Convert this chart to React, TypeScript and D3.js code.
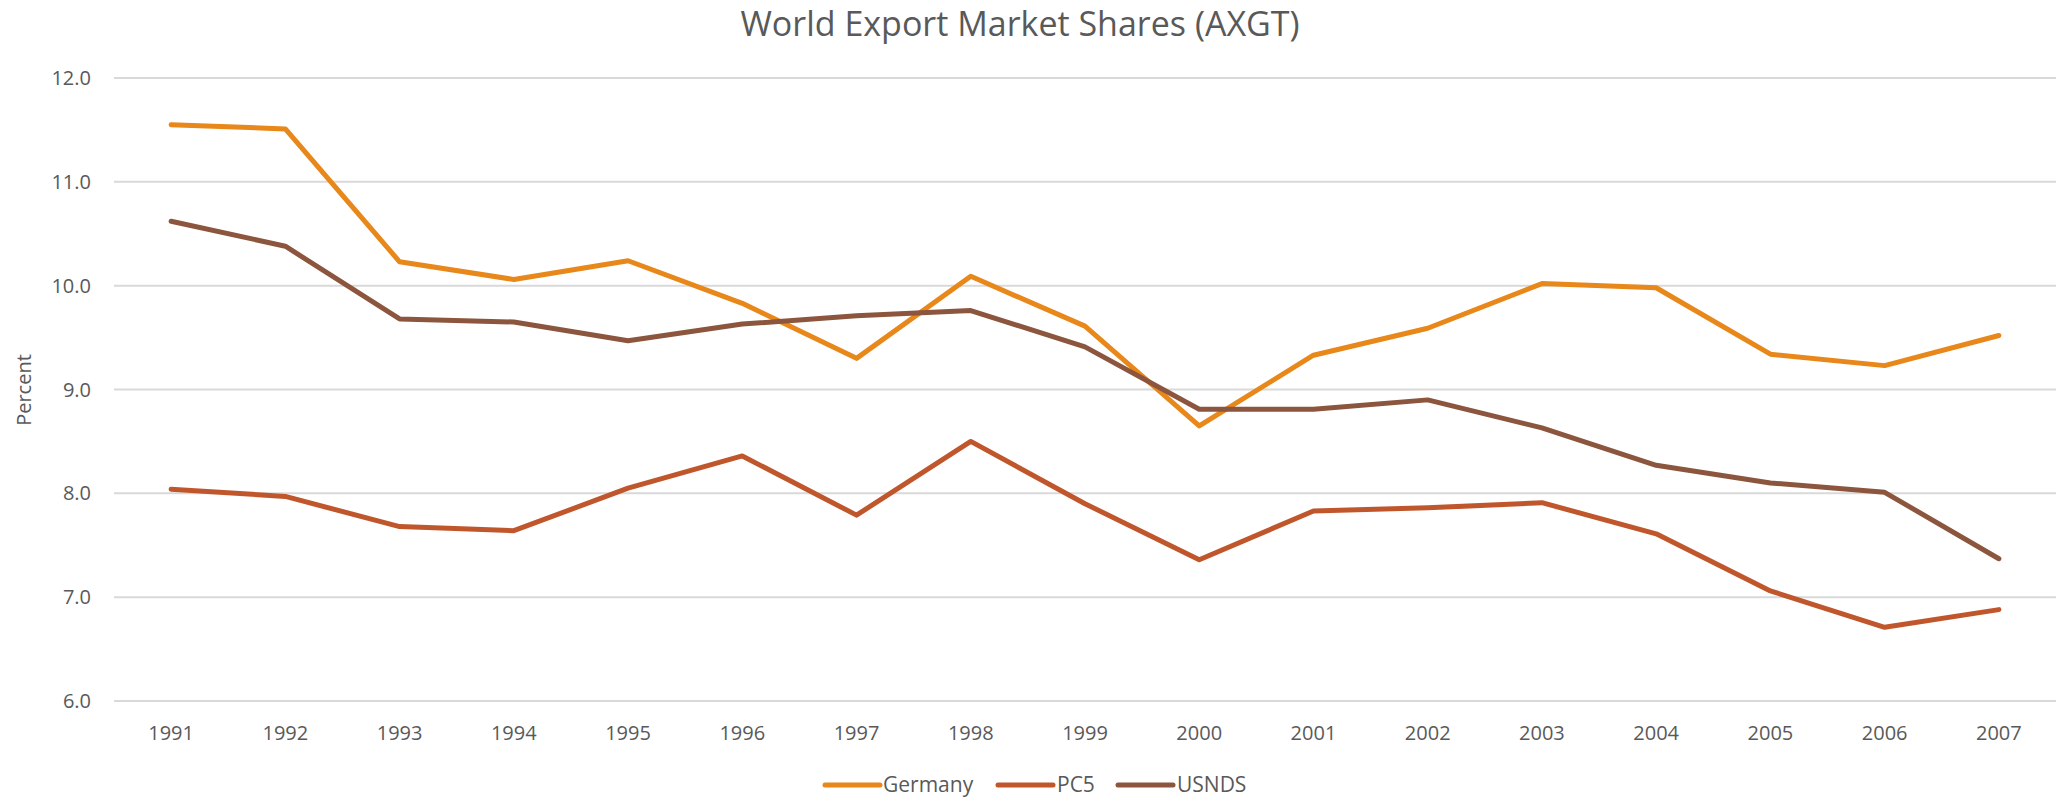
import React from "react";
import * as d3 from "d3";

const years = ["1991","1992","1993","1994","1995","1996","1997","1998","1999","2000","2001","2002","2003","2004","2005","2006","2007"];
const germany = [11.55,11.51,10.23,10.06,10.24,9.83,9.30,10.09,9.61,8.65,9.33,9.59,10.02,9.98,9.34,9.23,9.52];
const pc5 = [8.04,7.97,7.68,7.64,8.05,8.36,7.79,8.50,7.90,7.36,7.83,7.86,7.91,7.61,7.06,6.71,6.88];
const usnds = [10.62,10.38,9.68,9.65,9.47,9.63,9.71,9.76,9.41,8.81,8.81,8.90,8.63,8.27,8.10,8.01,7.37];
const yTicks = [6, 7, 8, 9, 10, 11, 12];
const seriesNames = ["Germany", "PC5", "USNDS"];
const seriesColors = ["#E8871A", "#C0572C", "#8B563D"];

const W = 2056, H = 801;
const M = { left: 114, right: 0, top: 78, bottom: 100 };
const FONT = "'Open Sans', 'Noto Sans', sans-serif";
const TEXT = "#595959";

export default function App() {
  const x = d3.scaleBand().domain(years).range([M.left, W - M.right]).paddingInner(0).paddingOuter(0);
  const y = d3.scaleLinear().domain([6, 12]).range([701, 78]);
  const line = d3.line<number>()
    .x((_, i) => (x(years[i]) as number) + x.bandwidth() / 2)
    .y((d) => y(d));
  const data = [germany, pc5, usnds];

  const legendItems = [
    { lx: 825, tx: 883 },
    { lx: 998, tx: 1057 },
    { lx: 1118, tx: 1177 },
  ];

  return (
    <svg width={W} height={H} style={{ position: "absolute", left: 0, top: 0, background: "#fff" }} fontFamily={FONT}>
      <rect x={0} y={0} width={W} height={H} fill="#fff" />
      <text x={1020} y={36} textAnchor="middle" fontSize={34} fill={TEXT}>World Export Market Shares (AXGT)</text>
      {yTicks.map((t) => (
        <g key={t}>
          <line x1={M.left} x2={W - M.right} y1={y(t)} y2={y(t)} stroke="#D9D9D9" strokeWidth={2} />
          <text x={91} y={y(t) + 7} textAnchor="end" fontSize={20} fill={TEXT}>{t.toFixed(1)}</text>
        </g>
      ))}
      <text transform={`translate(31,390) rotate(-90)`} textAnchor="middle" fontSize={20} fill={TEXT}>Percent</text>
      {years.map((yr) => (
        <text key={yr} x={(x(yr) as number) + x.bandwidth() / 2} y={740} textAnchor="middle" fontSize={20} fill={TEXT}>{yr}</text>
      ))}
      {data.map((s, i) => (
        <path key={seriesNames[i]} d={line(s) as string} fill="none" stroke={seriesColors[i]} strokeWidth={5} strokeLinejoin="round" strokeLinecap="round" />
      ))}
      {seriesNames.map((n, i) => (
        <g key={n}>
          <line x1={legendItems[i].lx} x2={legendItems[i].lx + 55} y1={785} y2={785} stroke={seriesColors[i]} strokeWidth={5} strokeLinecap="round" />
          <text x={legendItems[i].tx} y={792} fontSize={21} fill={TEXT}>{n}</text>
        </g>
      ))}
    </svg>
  );
}
